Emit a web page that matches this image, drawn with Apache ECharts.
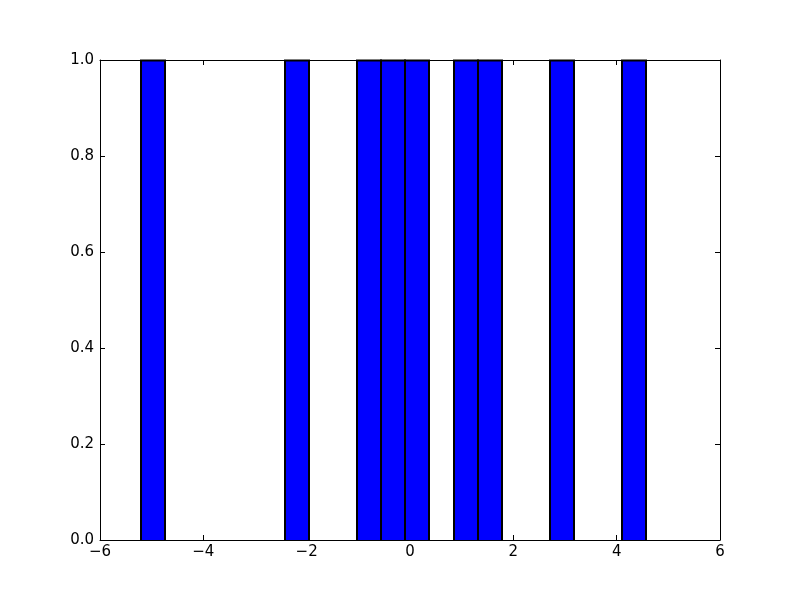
<!DOCTYPE html>
<html>
<head>
<meta charset="utf-8">
<script src="https://cdn.jsdelivr.net/npm/echarts@6/dist/echarts.min.js"></script>
<style>html,body{margin:0;padding:0;background:#fff}#c{width:800px;height:600px}</style>
</head>
<body>
<div id="c"></div>
<script>
var binEdges = [-5.203, -4.738, -4.273, -3.808, -3.343, -2.878, -2.413, -1.948, -1.483, -1.018, -0.553, -0.088, 0.377, 0.842, 1.307, 1.772, 2.237, 2.702, 3.167, 3.632, 4.097, 4.562];
var counts = [1, 0, 0, 0, 0, 0, 1, 0, 0, 1, 1, 1, 0, 1, 1, 0, 0, 1, 0, 0, 1];
var xTicks = [-6, -4, -2, 0, 2, 4, 6];
var yTicks = [0.0, 0.2, 0.4, 0.6, 0.8, 1.0];

var data = [];
for (var i = 0; i < counts.length; i++) {
  if (counts[i] > 0) data.push([binEdges[i], binEdges[i + 1], counts[i]]);
}

var font = { fontFamily: 'DejaVu Sans', fontSize: 15, color: '#000' };
function baseAxis(pos, min, max, interval, show, margin) {
  return {
    type: 'value', position: pos, min: min, max: max, interval: interval,
    axisLine: { show: true, onZero: false, lineStyle: { color: '#000', width: 1 } },
    axisTick: { show: true, inside: true, length: 5, lineStyle: { color: '#000' } },
    splitLine: { show: false },
    axisLabel: show ? Object.assign({ margin: margin }, font) : { show: false }
  };
}
var xa = baseAxis('bottom', xTicks[0], xTicks[xTicks.length - 1], 2, true, 5);
xa.axisLabel.formatter = function (v) { return v < 0 ? '\u2212' + Math.abs(v) : String(v); };
var xb = baseAxis('top', xTicks[0], xTicks[xTicks.length - 1], 2, false);
var ya = baseAxis('left', yTicks[0], yTicks[yTicks.length - 1], 0.2, true, 6);
ya.axisLabel.formatter = function (v) { return v.toFixed(1); };
var yb = baseAxis('right', yTicks[0], yTicks[yTicks.length - 1], 0.2, false);

var chart = echarts.init(document.getElementById('c'), null, { renderer: 'canvas' });
chart.setOption({
  animation: false,
  backgroundColor: '#fff',
  grid: { left: 100, right: 80, top: 60, bottom: 60, containLabel: false },
  xAxis: [xa, xb],
  yAxis: [ya, yb],
  series: [{
    type: 'custom', xAxisIndex: 0, yAxisIndex: 0, data: data,
    encode: { x: [0, 1], y: 2 }, z: 2,
    renderItem: function (params, api) {
      var p0 = api.coord([api.value(0), api.value(2)]);
      var p1 = api.coord([api.value(1), 0]);
      var x0 = Math.round(p0[0]), x1 = Math.round(p1[0]);
      var y0 = Math.round(p0[1]) + 0.5, y1 = Math.round(p1[1]);
      return {
        type: 'group',
        children: [{
          type: 'rect', z2: 1,
          shape: { x: x0 + 1, y: y0, width: x1 - x0 - 2, height: y1 - y0 },
          style: { fill: '#0000ff', lineWidth: 0 }
        }, {
          type: 'polyline', z2: 10,
          shape: { points: [[x0, y1], [x0, y0], [x1, y0], [x1, y1]] },
          style: { stroke: '#000000', lineWidth: 2, fill: null }
        }]
      };
    }
  }]
});
</script>
</body>
</html>
